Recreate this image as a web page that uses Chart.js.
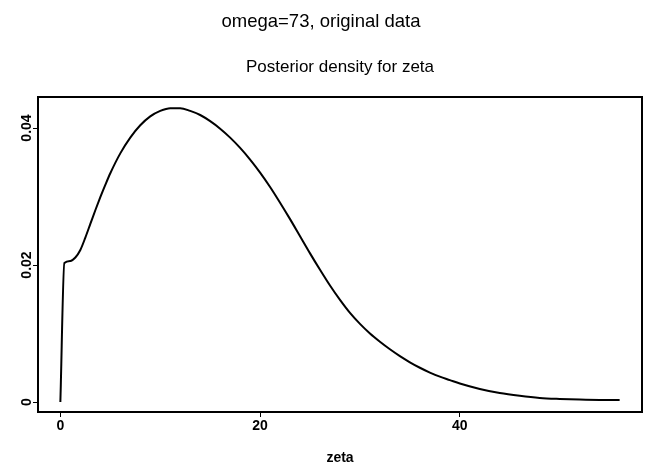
<!DOCTYPE html>
<html>
<head>
<meta charset="utf-8">
<script src="https://cdn.jsdelivr.net/npm/chart.js@4"></script>
<style>
  html, body { margin: 0; padding: 0; background: #fff; }
  #wrap { width: 647px; height: 467px; }
</style>
</head>
<body>
<div id="wrap"><canvas id="c" width="647" height="467"></canvas></div>
<script>
// ---- data ----
const zeta = [0, 0.4, 1, 1.5, 2, 2.5, 3, 3.5, 4, 4.5, 5, 6, 7, 8, 9, 10, 11, 12, 13, 14, 15,
  16, 17, 18, 19, 20, 21, 22, 23, 24, 25, 26, 27, 28, 29, 30, 31, 32, 33, 34, 35, 36, 37, 38,
  39, 40, 42, 44, 46, 48, 50, 52, 54, 56];
const density = [0, 0.0203, 0.0206, 0.0211, 0.0222, 0.0240, 0.0260, 0.0280, 0.0299, 0.0317,
  0.0334, 0.0363, 0.0386, 0.0404, 0.0417, 0.0425, 0.0429, 0.0429, 0.0425, 0.0419, 0.0410,
  0.0399, 0.0386, 0.0371, 0.0354, 0.0335, 0.0314, 0.0291, 0.0267, 0.0242, 0.0217, 0.0193,
  0.0170, 0.0149, 0.0130, 0.0114, 0.0100, 0.0088, 0.0077, 0.0067, 0.0058, 0.0050, 0.0043,
  0.0037, 0.0032, 0.0027, 0.0019, 0.0013, 0.0009, 0.0006, 0.00045, 0.00035, 0.0003, 0.0003];
const xTicks = [0, 20, 40];
const xTickLabels = ['0', '20', '40'];
const yTicks = [0, 0.02, 0.04];
const yTickLabels = ['0', '0.02', '0.04'];
const mainTitle = 'omega=73, original data';
const subTitle = 'Posterior density for zeta';
const xAxisTitle = 'zeta';

const points = zeta.map((x, i) => ({ x: x, y: density[i] }));
const FONT = '"Liberation Sans", Arial, Helvetica, sans-serif';

const boxPlugin = {
  id: 'box',
  afterDraw(chart) {
    const a = chart.chartArea, ctx = chart.ctx;
    ctx.save();
    ctx.strokeStyle = '#000';
    ctx.lineWidth = 2;
    ctx.strokeRect(a.left, a.top, a.right - a.left, a.bottom - a.top);
    ctx.restore();
  }
};

new Chart(document.getElementById('c'), {
  type: 'line',
  data: {
    datasets: [{
      data: points,
      borderColor: '#000',
      borderWidth: 2,
      pointRadius: 0,
      cubicInterpolationMode: 'monotone',
      fill: false
    }]
  },
  plugins: [boxPlugin],
  options: {
    responsive: false,
    animation: false,
    layout: { padding: { left: 0, right: 5, top: 0, bottom: 0 } },
    plugins: {
      legend: { display: false },
      tooltip: { enabled: false },
      title: {
        display: true, text: mainTitle, color: '#000',
        font: { family: FONT, size: 18.5, weight: 'normal' },
        padding: { top: 10.5, bottom: 0 }
      },
      subtitle: {
        display: true, text: subTitle, color: '#000', fullSize: false,
        font: { family: FONT, size: 17, weight: 'normal' },
        padding: { top: 24, bottom: 19.9 }
      }
    },
    scales: {
      x: {
        type: 'linear', min: -2.24, max: 58.24,
        afterBuildTicks(s) { s.ticks = xTicks.map(v => ({ value: v })); },
        afterFit(s) { s.height = 55; },
        ticks: {
          color: '#000', padding: 1,
          font: { family: FONT, size: 14, weight: 'bold' },
          callback(v) { const i = xTicks.indexOf(v); return i >= 0 ? xTickLabels[i] : ''; }
        },
        grid: { display: true, drawOnChartArea: false, drawTicks: true, tickLength: 5, color: '#000', lineWidth: 1 },
        border: { display: true, color: '#000', width: 2 },
        title: {
          display: true, text: xAxisTitle, color: '#000',
          font: { family: FONT, size: 14, weight: 'bold' },
          padding: { top: 0, bottom: 0 }
        }
      },
      y: {
        type: 'linear', min: -0.00146, max: 0.04453,
        afterBuildTicks(s) { s.ticks = yTicks.map(v => ({ value: v })); },
        afterFit(s) { s.width = 38; },
        ticks: {
          color: '#000', padding: -7.6, minRotation: 90, maxRotation: 90, crossAlign: 'center',
          font: { family: FONT, size: 14, weight: 'bold' },
          callback(v) { const i = yTicks.indexOf(v); return i >= 0 ? yTickLabels[i] : ''; }
        },
        grid: { display: true, drawOnChartArea: false, drawTicks: true, tickLength: 5, color: '#000', lineWidth: 1 },
        border: { display: true, color: '#000', width: 2 }
      }
    }
  }
});
</script>
</body>
</html>
